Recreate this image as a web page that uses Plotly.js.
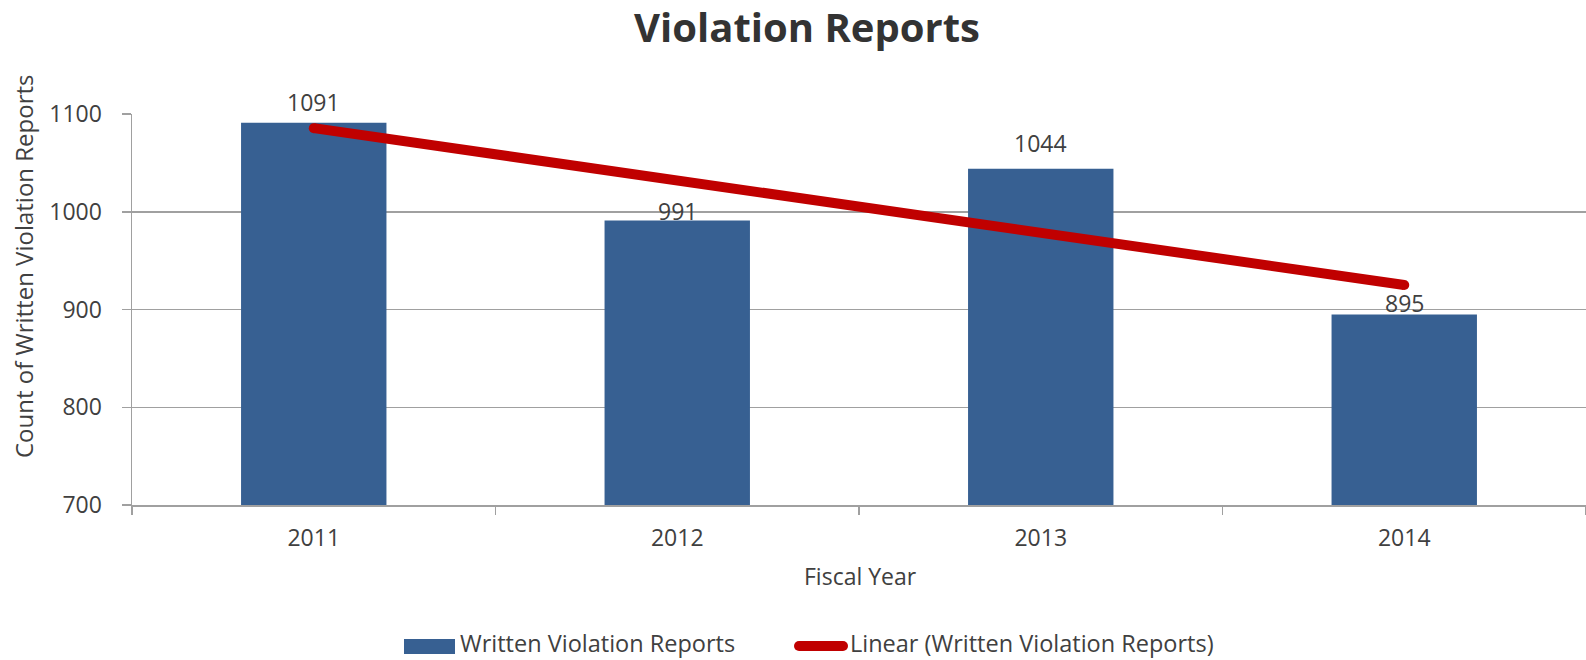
<!DOCTYPE html>
<html>
<head>
<meta charset="utf-8">
<script src="https://cdn.plot.ly/plotly-3.0.1.min.js"></script>
<style>html,body{margin:0;padding:0;background:#fff;}#chart{width:1586px;height:660px;}</style>
</head>
<body>
<div id="chart"></div>
<script>
// ---- data ----
const years = ["2011", "2012", "2013", "2014"];
const reports = [1091, 991, 1044, 895];
const trendYears = ["2011", "2014"];
const trendValues = [1085.5, 925];
const yTicks = [700, 800, 900, 1000, 1100];

// ---- styling ----
const FONT = "Open Sans, Noto Sans, sans-serif";
const TXT = "#404040";
const GRID = "#a0a0a0";
const BAR = "#376092";
const RED = "#c00000";
const labelShift = [21, 10, 26, 11]; // label centre above bar top, px

const W = 1586, H = 660, L = 132, R = 0, T = 114, B = 155;
const pw = W - L - R, ph = H - T - B;
const px = x => (x - L) / pw;        // pixel -> paper x
const py = y => (H - B - y) / ph;    // pixel -> paper y

const traces = [
  {
    type: "bar", x: years, y: reports, width: 0.4,
    marker: {color: BAR}, name: "Written Violation Reports"
  },
  {
    type: "scatter", mode: "lines+markers", x: trendYears, y: trendValues,
    line: {color: RED, width: 10},
    marker: {color: RED, size: 10, line: {width: 0}},
    name: "Linear (Written Violation Reports)"
  }
];

const annotations = years.map((yr, i) => ({
  x: years.indexOf(yr), y: reports[i], xref: "x", yref: "y",
  text: String(reports[i]), showarrow: false,
  yanchor: "middle", yshift: labelShift[i],
  font: {family: FONT, size: 23, color: TXT}
}));

annotations.push(
  {x: px(23), y: py(266), xref: "paper", yref: "paper", text: "Count of Written Violation Reports",
   textangle: -90, showarrow: false, xanchor: "center", yanchor: "middle",
   font: {family: FONT, size: 24, color: TXT}},
  {x: px(860), y: py(576), xref: "paper", yref: "paper", text: "Fiscal Year",
   showarrow: false, xanchor: "center", yanchor: "middle",
   font: {family: FONT, size: 23, color: TXT}},
  {x: px(459), y: py(643), xref: "paper", yref: "paper", text: "Written Violation Reports",
   showarrow: false, xanchor: "left", yanchor: "middle", borderpad: 0,
   font: {family: FONT, size: 23.5, color: TXT}},
  {x: px(849), y: py(643), xref: "paper", yref: "paper", text: "Linear (Written Violation Reports)",
   showarrow: false, xanchor: "left", yanchor: "middle", borderpad: 0,
   font: {family: FONT, size: 23.5, color: TXT}}
);

const shapes = [
  {type: "rect", xref: "paper", yref: "paper", x0: px(404), x1: px(455), y0: py(639), y1: py(654),
   fillcolor: BAR, line: {width: 0}},
  {type: "line", xref: "paper", yref: "paper", x0: px(799), x1: px(843), y0: py(646), y1: py(646),
   line: {color: RED, width: 10}},
  {type: "circle", xref: "paper", yref: "paper", x0: px(794), x1: px(804), y0: py(641), y1: py(651),
   fillcolor: RED, line: {width: 0}},
  {type: "circle", xref: "paper", yref: "paper", x0: px(838), x1: px(848), y0: py(641), y1: py(651),
   fillcolor: RED, line: {width: 0}}
];

const layout = {
  width: W, height: H,
  margin: {l: L, r: R, t: T, b: B, pad: 0},
  paper_bgcolor: "#ffffff", plot_bgcolor: "#ffffff",
  showlegend: false,
  title: {
    text: "<b>Violation Reports</b>",
    font: {family: FONT, size: 40, color: "#333333"},
    xref: "paper", x: px(807), xanchor: "center",
    yref: "container", y: 1 - 28 / H, yanchor: "middle"
  },
  xaxis: {
    type: "category", categoryorder: "array", categoryarray: years,
    range: [-0.5, years.length - 0.5], autorange: false,
    showgrid: false, showline: true, linecolor: GRID, linewidth: 1.5,
    ticks: "outside", tickson: "boundaries", ticklen: 8, tickcolor: GRID, tickwidth: 1.5,
    tickangle: 0,
    tickfont: {family: FONT, size: 23, color: TXT}, ticklabelstandoff: 12,
    fixedrange: true
  },
  yaxis: {
    range: [700, 1100], autorange: false, tickvals: yTicks, ticktext: yTicks.map(String),
    showgrid: true, gridcolor: GRID, gridwidth: 1.5,
    showline: true, linecolor: GRID, linewidth: 1.5,
    ticks: "outside", ticklen: 9, tickcolor: GRID, tickwidth: 1.5,
    tickfont: {family: FONT, size: 23, color: TXT}, ticklabelstandoff: 15,
    zeroline: false, fixedrange: true
  },
  annotations: annotations,
  shapes: shapes
};

Plotly.newPlot("chart", traces, layout, {displayModeBar: false, staticPlot: true});
</script>
</body>
</html>
